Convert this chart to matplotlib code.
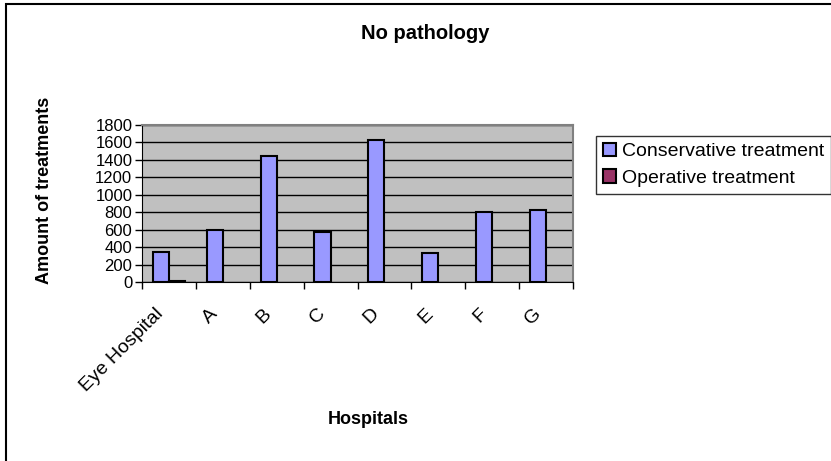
import numpy as np
import matplotlib
matplotlib.use("Agg")
import matplotlib.pyplot as plt
from matplotlib.patches import Rectangle
from matplotlib.transforms import ScaledTranslation

plt.rcParams['font.family'] = ['Liberation Sans', 'DejaVu Sans']

# data
hospitals = ["Eye Hospital", "A", "B", "C", "D", "E", "F", "G"]
conservative = [340, 600, 1450, 575, 1630, 330, 805, 825]
operative = [10, 0, 0, 0, 0, 0, 0, 0]
yticks = [0, 200, 400, 600, 800, 1000, 1200, 1400, 1600, 1800]

fig = plt.figure(figsize=(8.31, 4.61), dpi=100)
ax = fig.add_axes([0.1709, 0.3883, 0.5187, 0.3406])

x = np.arange(len(hospitals))
w = 0.3
ax.bar(x - w / 2, conservative, w, color="#9999FF", edgecolor="black",
       linewidth=[1.5 if v > 0 else 0 for v in conservative],
       label="Conservative treatment", zorder=3)
ax.bar(x + w / 2, operative, w, color="#993366", edgecolor="black",
       linewidth=[1.5 if v > 0 else 0 for v in operative],
       label="Operative treatment", zorder=3)

ax.set_facecolor("#C0C0C0")
ax.set_xlim(-0.5, len(hospitals) - 0.5)
ax.set_ylim(0, 1800)
ax.set_yticks(yticks)
ax.yaxis.grid(True, color="black", linewidth=1)
ax.set_axisbelow(True)

# excel style: ticks between categories, labels at centres
ax.set_xticks(np.arange(-0.5, len(hospitals)), minor=False)
ax.set_xticklabels([])
ax.set_xticks(x, minor=True)
ax.set_xticklabels(hospitals, minor=True, rotation=45, ha="right",
                   va="center", rotation_mode="anchor", fontsize=14)
ax.tick_params(axis="x", which="minor", length=0, pad=21)
ax.tick_params(axis="x", which="major", length=5, width=1, direction="out")
ax.tick_params(axis="y", length=5, width=1, direction="out", labelsize=12, pad=2)
shift = ScaledTranslation(-0.08, 0, fig.dpi_scale_trans)
for lab in ax.get_xticklabels(minor=True):
    lab.set_transform(lab.get_transform() + shift)

for s in ["top", "right"]:
    ax.spines[s].set_color("#808080")
    ax.spines[s].set_linewidth(1.5)
ax.spines["left"].set_color("black")
ax.spines["bottom"].set_color("black")

fig.text(0.512, 0.928, "No pathology", ha="center", va="center",
         fontsize=14.5, fontweight="bold")
fig.text(0.054, 0.588, "Amount of treatments", ha="center", va="center",
         rotation=90, fontsize=13, fontweight="bold")
fig.text(0.443, 0.089, "Hospitals", ha="center", va="center",
         fontsize=13, fontweight="bold")

leg = fig.legend(loc="upper left", bbox_to_anchor=(0.717, 0.705),
                 fontsize=14, frameon=True, fancybox=False,
                 handlelength=0.7, handleheight=0.7, handletextpad=0.3,
                 borderpad=0.35, labelspacing=0.45, borderaxespad=0)
leg.get_frame().set_edgecolor("black")
leg.get_frame().set_linewidth(1)

# outer chart frame, cut off at right and bottom like the original
fig.patches.append(Rectangle((6 / 831, -0.05), 1.0, 1 - 4 / 461 + 0.05,
                             transform=fig.transFigure, fill=False,
                             edgecolor="black", linewidth=1.5))

fig.savefig("out.png", dpi=100)
